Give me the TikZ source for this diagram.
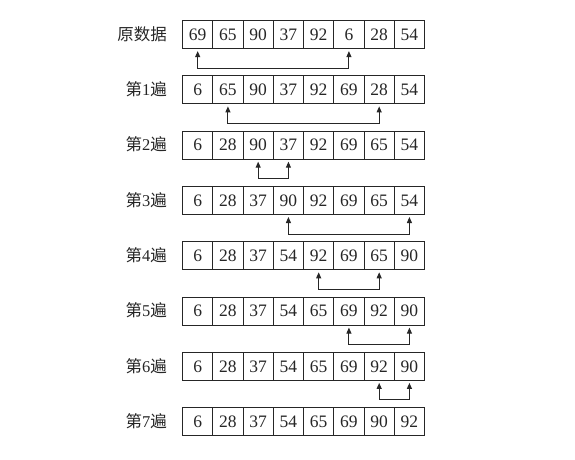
\documentclass[tikz,border=0pt]{standalone}
\usepackage{fontspec}
\setmainfont{Liberation Serif}
\newfontfamily\cjk{Noto Sans CJK SC}
\usetikzlibrary{arrows.meta}
\begin{document}
\begin{tikzpicture}[x=1pt,y=-1pt,
  cell/.style={draw=black!85,line width=1.1pt,minimum width=30.25pt,minimum height=28pt,inner sep=0pt,anchor=north west,font=\fontsize{17.5}{20}\selectfont,text=black!85},
  rowlabel/.style={anchor=east,inner sep=0pt,font=\fontsize{16.5}{20}\selectfont,text=black!85},
  swap/.style={draw=black!85,line width=1pt,{Triangle[length=6pt,width=5pt]}-{Triangle[length=6pt,width=5pt]}}]
\useasboundingbox (0,0) rectangle (575,459);
\fill[white] (0,0) rectangle (575,459);
\foreach \vals [count=\r from 0] in {{69,65,90,37,92,6,28,54},{6,65,90,37,92,69,28,54},{6,28,90,37,92,69,65,54},{6,28,37,90,92,69,65,54},{6,28,37,54,92,69,65,90},{6,28,37,54,65,69,92,90},{6,28,37,54,65,69,92,90},{6,28,37,54,65,69,90,92}}{
  \foreach \v [count=\i from 0] in \vals {
    \node[cell] (c-\r-\i) at ({182+30.25*\i},{20+55.3*\r}) {\v};
  }
}
\node[rowlabel] (l0) at (167,{34}) {\cjk 原数据};
\foreach \r in {1,...,7}{
  \node[rowlabel] (l\r) at (167,{34+55.3*\r}) {{\cjk 第}\r{\cjk 遍}};
}
\foreach \r/\a/\b in {0/0/5,1/1/6,2/2/3,3/3/7,4/4/6,5/5/7,6/6/7}{
  \draw[swap] ([yshift=-2pt]c-\r-\a.south) -- ++(0,17) -| ([yshift=-2pt]c-\r-\b.south);
}
\end{tikzpicture}
\end{document}
